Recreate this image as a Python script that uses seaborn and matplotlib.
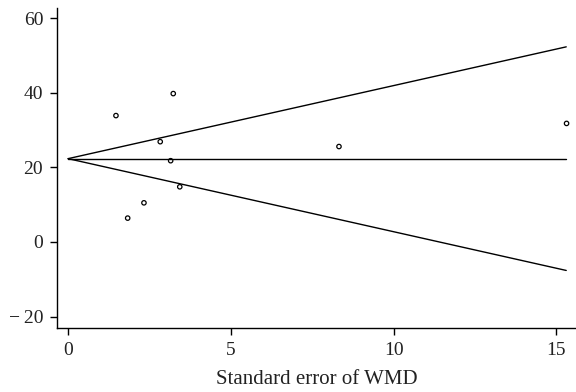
import numpy as np
import matplotlib
matplotlib.use('Agg')
import matplotlib.pyplot as plt
import seaborn as sns

# Dados do funnel plot
se_wmd = [1.47, 1.83, 2.33, 2.83, 3.15, 3.23, 3.43, 8.32, 15.31]
wmd = [33.9, 6.4, 10.5, 26.9, 21.8, 39.8, 14.8, 25.6, 31.8]
pooled = 22.35
se_max = 15.3
z = 1.96

sns.set_style('ticks')
plt.rcParams['font.family'] = ['Liberation Serif', 'DejaVu Serif']

fig = plt.figure(figsize=(5.76, 3.92), dpi=100)
ax = fig.add_axes([0.099, 0.163, 0.901, 0.817])

# linhas do funil
se_line = np.array([0, se_max])
ax.plot(se_line, [pooled, pooled], color='black', lw=1.0)
ax.plot(se_line, pooled + z * se_line, color='black', lw=1.0)
ax.plot(se_line, pooled - z * se_line, color='black', lw=1.0)

sns.scatterplot(x=se_wmd, y=wmd, ax=ax, marker='o', s=10,
                facecolor='none', edgecolor='black', linewidth=0.9, zorder=3)

ax.set_xlim(-0.34, 15.6)
ax.set_ylim(-23.1, 62.8)
ax.set_xticks([0, 5, 10, 15])
ax.set_yticks([-20, 0, 20, 40, 60])
ax.set_yticklabels(['\u2212\u200920', '0', '20', '40', '60'])
ax.tick_params(axis='both', labelsize=14, length=5, width=1, color='black',
               labelcolor='#222222', pad=5)
ax.set_xlabel('Standard error of WMD', fontsize=15, color='#222222', labelpad=8)
ax.set_ylabel('')
for s in ['left', 'bottom']:
    ax.spines[s].set_linewidth(1)
    ax.spines[s].set_color('black')
sns.despine(ax=ax)

fig.savefig('out.png', dpi=100)
